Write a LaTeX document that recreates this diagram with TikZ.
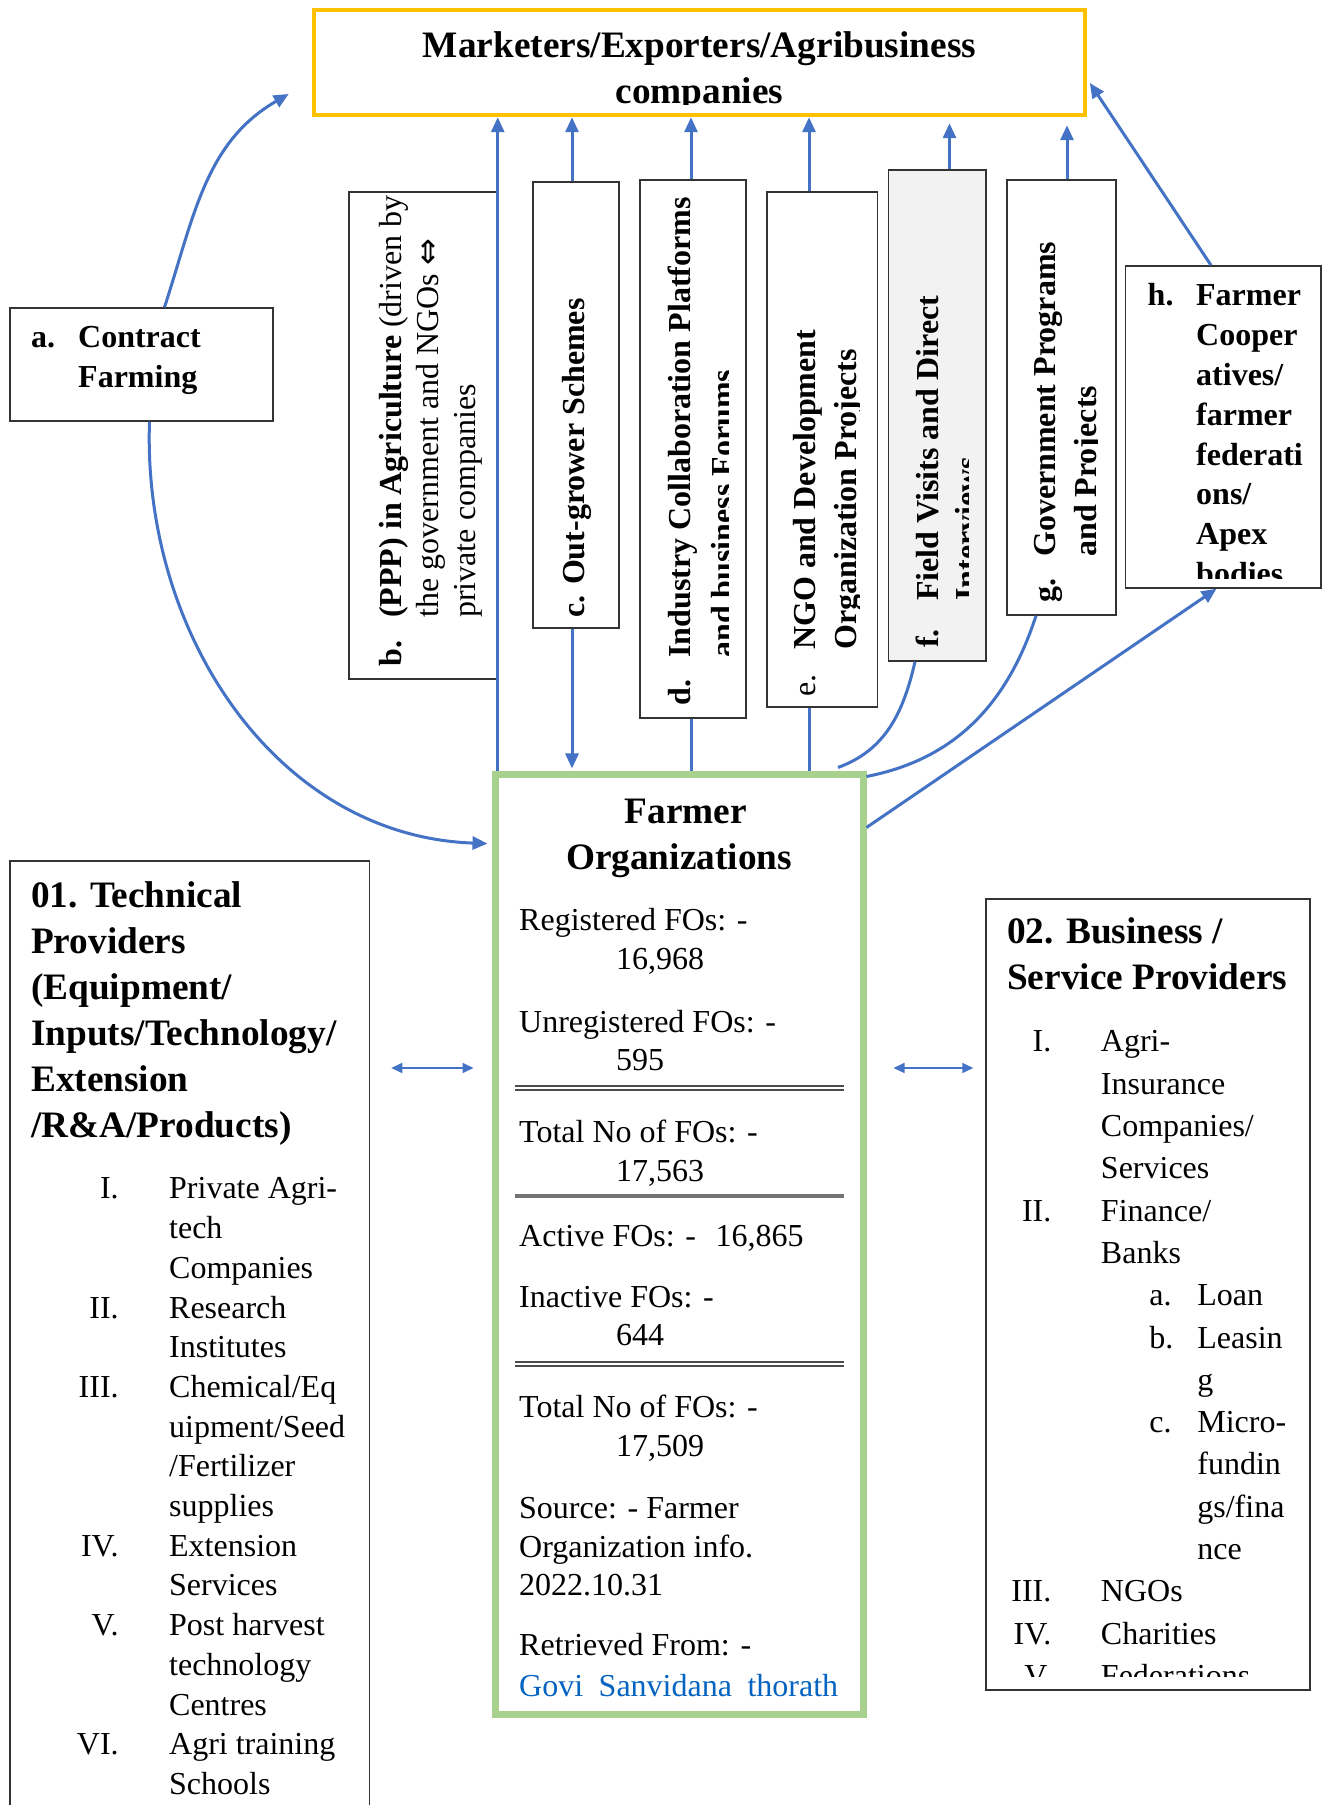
\documentclass[tikz,border=0pt]{standalone}
\usepackage{fontspec}
\setmainfont{Liberation Serif}
\newfontfamily\arrowfont{DejaVu Sans}
\usetikzlibrary{arrows.meta}

\definecolor{linkblue}{HTML}{4472C4}
\definecolor{topgold}{HTML}{FFC000}
\definecolor{fogreen}{HTML}{A9D18E}
\definecolor{fieldgray}{HTML}{F2F2F2}
\definecolor{hyperblue}{HTML}{0563C1}

\begin{document}
\begin{tikzpicture}[x=1pt, y=1pt,
                    panel/.style={draw=black!80, line width=1.5, fill=white, inner sep=0},
                    link/.style={draw=linkblue, line width=3},
                    link arrow/.style={link, -{Triangle[length=15pt, width=13pt]}},
                    both arrow/.style={draw=linkblue, line width=1.6, {Triangle[length=11pt, width=10pt]}-{Triangle[length=11pt, width=10pt]}},
                    plain/.style={anchor=base west, inner sep=0},
                    head/.style={inner sep=0, font=\bfseries\fontsize{37.3}{46}\selectfont},
                    side/.style={rotate=90, anchor=base west, inner sep=0, font=\fontsize{32}{37}\selectfont},
                    fotext/.style={plain, font=\fontsize{32}{38.5}\selectfont},
                    rule/.style={draw=black!55, line width=3.5},
                    double rule/.style={draw=black!70, line width=2.4, double=white, double distance=2},
                   ]
  \useasboundingbox[fill=white] (0,0) rectangle (1327,1805);

  % boxes
  \node[panel, draw=topgold, line width=4.5, minimum width=771, minimum height=105] (top) at (699.5,1742.5) {};
  \node[panel, minimum width=263, minimum height=113] (a) at (141.5,1440.5) {};
  \node[panel, minimum width=148, minimum height=487] (b) at (423,1369.5) {};
  \node[panel, minimum width=86, minimum height=446] (c) at (576,1400) {};
  \node[panel, minimum width=106, minimum height=538] (d) at (693,1356) {};
  \node[panel, minimum width=110.5, minimum height=515] (e) at (822,1355.5) {};
  \node[panel, fill=fieldgray, minimum width=97.5, minimum height=491] (f) at (937,1389.5) {};
  \node[panel, minimum width=109, minimum height=435] (g) at (1061.5,1407.5) {};
  \node[panel, minimum width=195.5, minimum height=322] (h) at (1223,1378) {};
  \node[panel, draw=fogreen, line width=7, minimum width=368, minimum height=940] (fo) at (679,560) {};
  \node[panel, minimum width=359.5, minimum height=964] (tech) at (189.75,462) {};
  \node[panel, minimum width=324, minimum height=791] (biz) at (1148,510.5) {};

  % top box text
  \begin{scope}
    \clip ([yshift=12.5]top.south west) rectangle (top.north east);
    \node[head, anchor=base] (top-text) at (699.5,1747.5) {\begin{tabular}[t]{@{}c@{}}Marketers/Exporters/Agribusiness\\companies\end{tabular}};
  \end{scope}

  \node[plain, font=\bfseries\fontsize{32}{40}\selectfont] (a-text) at (31,1457) {\begin{tabular}[t]{@{}p{47pt}@{}l@{}}a. & Contract\\ & Farming\end{tabular}};

  \node[side] (b-text) at (401,1138) {\begin{tabular}[t]{@{}p{49pt}@{}l@{}}\textbf{b.} & \textbf{(PPP) in Agriculture} (driven by\\ & the government and NGOs {\arrowfont ⇔}\\ & private companies\end{tabular}};

  \node[side, font=\bfseries\fontsize{32}{37}\selectfont] (c-text) at (584,1187) {c. Out-grower Schemes};

  \begin{scope}
    \clip (d.south west) rectangle ([xshift=-18]d.north east);
    \node[side, font=\bfseries\fontsize{32}{43}\selectfont] (d-text) at (690,1099.5) {\begin{tabular}[t]{@{}p{47.5pt}@{}l@{}}d. & Industry Collaboration Platforms\\ & and business Forums\end{tabular}};
  \end{scope}

  \begin{scope}
    \clip (e.south west) rectangle ([xshift=-19]e.north east);
    \node[side, font=\fontsize{32}{41}\selectfont] (e-text) at (815.5,1108) {\begin{tabular}[t]{@{}p{47pt}@{}l@{}}e. & \textbf{NGO and Development}\\ & \textbf{Organization Projects}\end{tabular}};
  \end{scope}

  \begin{scope}
    \clip (f.south west) rectangle ([xshift=-18]f.north east);
    \node[side, font=\bfseries\fontsize{32}{39.5}\selectfont] (f-text) at (938,1157) {\begin{tabular}[t]{@{}p{47pt}@{}l@{}}f. & Field Visits and Direct\\ & Interviews\end{tabular}};
  \end{scope}

  \begin{scope}
    \clip (g.south west) rectangle ([xshift=-19]g.north east);
    \node[side, font=\bfseries\fontsize{32}{40.5}\selectfont] (g-text) at (1055.5,1202) {\begin{tabular}[t]{@{}p{46pt}@{}l@{}}g. & Government Programs\\ & and Projects\end{tabular}};
  \end{scope}

  \begin{scope}
    \clip ([yshift=10]h.south west) rectangle (h.north east);
    \node[plain, font=\bfseries\fontsize{32}{39.8}\selectfont] (h-text) at (1147.5,1499) {\begin{tabular}[t]{@{}p{48.5pt}@{}l@{}}h. & Farmer\\ & Cooper\\ & atives/\\ & farmer\\ & federati\\ & ons/\\ & Apex\\ & bodies\end{tabular}};
  \end{scope}

  % farmer organizations
  \node[head, anchor=base] (fo-title) at (679,981) {\begin{tabular}[t]{@{}c@{}}\hspace*{14pt}Farmer\\Organizations\end{tabular}};
  \node[fotext] (fo-reg) at (519,874) {\begin{tabular}[t]{@{}l@{}}Registered FOs: -\\\hspace*{97pt}16,968\end{tabular}};
  \node[fotext] (fo-unreg) at (519,772.5) {\begin{tabular}[t]{@{}l@{}}Unregistered FOs: -\\\hspace*{97pt}595\end{tabular}};
  \node[fotext] (fo-total-a) at (519,662) {\begin{tabular}[t]{@{}l@{}}Total No of FOs: -\\\hspace*{97pt}17,563\end{tabular}};
  \node[fotext] (fo-active) at (519,558.5) {Active FOs: -\hspace{11.5pt} 16,865};
  \node[fotext] (fo-inactive) at (519,497.5) {\begin{tabular}[t]{@{}l@{}}Inactive FOs: -\\\hspace*{97pt}644\end{tabular}};
  \node[fotext] (fo-total-b) at (519,387) {\begin{tabular}[t]{@{}l@{}}Total No of FOs: -\\\hspace*{97pt}17,509\end{tabular}};
  \node[fotext] (fo-source) at (519,286) {\begin{tabular}[t]{@{}l@{}}Source: - Farmer\\Organization info.\\2022.10.31\end{tabular}};
  \node[fotext, font=\fontsize{32}{40.5}\selectfont] (fo-retrieved) at (519,149) {\begin{tabular}[t]{@{}l@{}}Retrieved From: -\\{\color{hyperblue}\makebox[319pt][s]{Govi Sanvidana thorath}}\end{tabular}};

  \draw[double rule] ([shift={(-164.5,157)}]fo.center) -- ([shift={(164.5,157)}]fo.center);
  \draw[rule] ([shift={(-164.5,49)}]fo.center) -- ([shift={(164.5,49)}]fo.center);
  \draw[double rule] ([shift={(-164.5,-119)}]fo.center) -- ([shift={(164.5,-119)}]fo.center);

  % technical providers
  \node[plain, head] (tech-head) at (31,897) {\begin{tabular}[t]{@{}l@{}}01. Technical\\Providers\\(Equipment/\\Inputs/Technology/\\Extension\\/R\&A/Products)\end{tabular}};
  \node[plain, font=\fontsize{32}{39.7}\selectfont] (tech-list) at (76.7,606) {\begin{tabular}[t]{@{}r@{\hspace{50.5pt}}l@{}}
    I. & Private Agri-\\
     & tech\\
     & Companies\\
    II. & Research\\
     & Institutes\\
    III. & Chemical/Eq\\
     & uipment/Seed\\
     & /Fertilizer\\
     & supplies\\
    IV. & Extension\\
     & Services\\
    V. & Post harvest\\
     & technology\\
     & Centres\\
    VI. & Agri training\\
     & Schools
  \end{tabular}};

  % business providers
  \node[plain, head] (biz-head) at (1007,861) {\begin{tabular}[t]{@{}l@{}}02. Business /\\Service Providers\end{tabular}};
  \begin{scope}
    \clip ([yshift=14]biz.south west) rectangle (biz.north east);
    \node[plain, font=\fontsize{32}{42.3}\selectfont] (biz-list) at (1011.2,753) {\begin{tabular}[t]{@{}r@{\hspace{49.6pt}}l@{}}
      I. & Agri-\\
       & Insurance\\
       & Companies/\\
       & Services\\
      II. & Finance/\\
       & Banks\\
       & \hspace*{48.4pt}\makebox[48pt][l]{a.}Loan\\
       & \hspace*{48.4pt}\makebox[48pt][l]{b.}Leasin\\
       & \hspace*{96.4pt}g\\
       & \hspace*{48.4pt}\makebox[48pt][l]{c.}Micro-\\
       & \hspace*{96.4pt}fundin\\
       & \hspace*{96.4pt}gs/fina\\
       & \hspace*{96.4pt}nce\\
      III. & NGOs\\
      IV. & Charities\\
      V. & Federations
    \end{tabular}};
  \end{scope}

  % connectors to the marketers
  \coordinate (a-tip) at ([shift={(-23,-31.5)}]top.west);
  \draw[link arrow] ([xshift=23]a.north) to[out=72, in=-150] (a-tip);
  \draw[link arrow] (fo.north west -| b.east) -- (b.east |- top.south);
  \draw[link arrow] ([xshift=-4]c.north) -- ([xshift=-4]c.north |- top.south);
  \draw[link arrow] ([xshift=-2]d.north) -- ([xshift=-2]d.north |- top.south);
  \draw[link arrow] ([xshift=-13]e.north) -- ([xshift=-13]e.north |- top.south);
  \draw[link arrow] ([xshift=12.5]f.north) -- ([xshift=12.5,yshift=-6]f.north |- top.south);
  \draw[link arrow] ([xshift=5.5]g.north) -- ([xshift=5.5,yshift=-8]g.north |- top.south);
  \draw[link arrow] ([xshift=-12]h.north) -- ([shift={(2.6,-20.5)}]top.east);

  % connectors to the farmer organizations
  \draw[link arrow] ([xshift=8]a.south) to[out=-92, in=178] ([shift={(-4,401.4)}]fo.west);
  \draw[link arrow] ([xshift=-4]c.south) -- ([xshift=-4,yshift=3]c.south |- fo.north);
  \draw[link] ([xshift=-2]d.south) -- ([xshift=-2]d.south |- fo.north);
  \draw[link] ([xshift=-13]e.south) -- ([xshift=-13]e.south |- fo.north);
  \draw[link] ([xshift=-22]f.south) to[out=-103, in=20] ([shift={(-28.5,4)}]fo.north east);
  \draw[link] ([xshift=-25.5]g.south) to[out=-108, in=11] ([yshift=-5]fo.north east);
  \draw[link arrow] ([yshift=-56]fo.north east) -- ([xshift=-6.5]h.south);

  % providers
  \draw[both arrow] ([shift={(21,275)}]tech.east) -- ([shift={(-18,177)}]fo.west);
  \draw[both arrow] ([shift={(27,177)}]fo.east) -- ([shift={(-12,226.5)}]biz.west);
\end{tikzpicture}
\end{document}
